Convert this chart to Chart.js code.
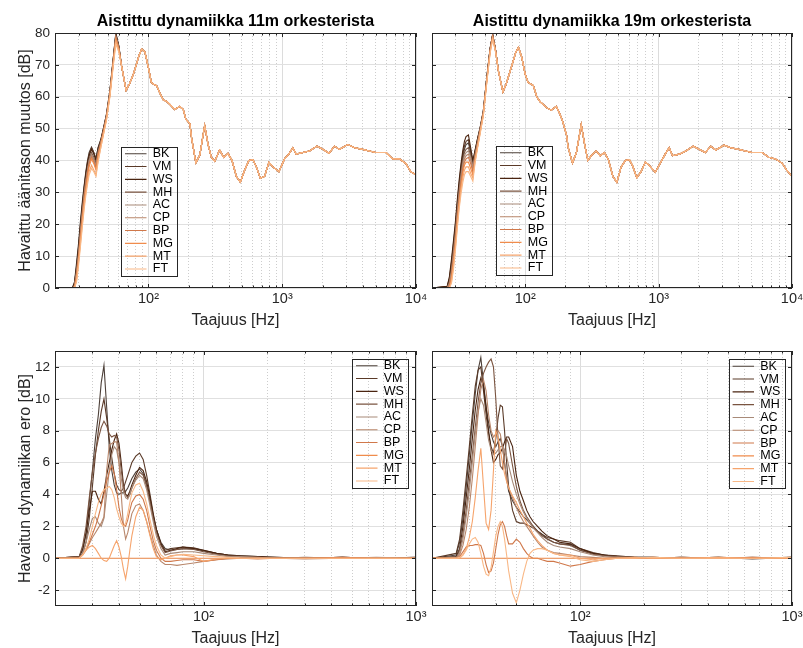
<!DOCTYPE html>
<html>
<head>
<meta charset="utf-8">
<script src="https://cdn.jsdelivr.net/npm/chart.js@4.4.1/dist/chart.umd.min.js"></script>
<style>
  body { margin: 0; background: #fff; }
  .wrap { position: relative; width: 803px; height: 648px; }
  canvas { position: absolute; left: 0; top: 0; }
</style>
</head>
<body>
<div class="wrap">
  <canvas id="tl" width="803" height="648"></canvas>
  <canvas id="tr" width="803" height="648"></canvas>
  <canvas id="bl" width="803" height="648"></canvas>
  <canvas id="br" width="803" height="648"></canvas>
</div>
<script>
const players = ['BK', 'VM', 'WS', 'MH', 'AC', 'CP', 'BP', 'MG', 'MT', 'FT'];
const lineColors = ['#4d4039', '#5a3a28', '#4a2410', '#7a5440', '#a88a78', '#b8866a', '#d0784a', '#f08c4c', '#f6a46c', '#f9b886'];

// top row: level change [dB] vs frequency [Hz]
// below ~65 Hz the players differ, above that the curves lie on top of each other
const freqLow = [20, 26, 27, 28, 29, 30, 31, 32, 33, 34, 35, 36, 37.5, 39, 40.5, 42, 44, 46, 48.5, 51.5, 54.5, 57, 60, 63];
const freqHigh = [68, 72, 77, 81, 85, 89, 94, 100, 105, 110, 115, 122, 129, 137, 145, 157,
  171, 182, 190, 204, 210, 226, 242, 263, 279, 295, 313, 340, 365, 393, 421, 454,
  486, 524, 563, 604, 640, 686, 738, 795, 851, 944, 1040, 1120, 1200, 1270, 1430, 1600,
  1820, 2010, 2240, 2460, 2680, 3090, 3470, 3990, 4470, 5010, 5970, 6700, 7510, 8420, 9130, 10000];

// rows in the same order as players
const lowTop11 = [
  [0, 0, 0, 2, 8, 14, 21, 27, 32, 36.5, 40, 42.5, 44.2, 42.5, 40.5, 44, 46.5, 50, 54.5, 62, 72, 80, 76, 69.5],
  [0, 0, 0, 1.5, 7, 13, 20, 26, 31.5, 36, 39.5, 42, 44, 42.5, 40.5, 44, 46.5, 50, 54.5, 62, 72, 79.8, 76, 69.5],
  [0, 0, 0, 1.5, 6.5, 12.5, 19.5, 25.5, 31, 35.5, 39, 41.5, 43.5, 42, 40, 43.5, 46, 49.5, 54, 61.5, 71.5, 79.5, 75.5, 69.5],
  [0, 0, 0, 1, 5.5, 11, 18, 24, 29.5, 34, 37.5, 40.5, 42.5, 41, 39, 43, 46, 49.5, 54, 61.5, 71.5, 79, 75.5, 69.5],
  [0, 0, 0, 0.5, 5, 10.5, 17.5, 23.5, 29, 33.5, 37, 40, 42, 40.5, 38.5, 42.5, 45.5, 49, 54, 61.5, 71, 79, 75.5, 69.5],
  [0, 0, 0, 0.5, 4.5, 10, 17, 23, 28.5, 33, 36.5, 39.5, 41.5, 40, 38, 42, 45.5, 49, 53.5, 61, 71, 78.5, 75, 69.5],
  [0, 0, 0, 0.3, 4, 9.5, 16, 22, 27.5, 32, 36, 39, 41, 39.5, 37.5, 42, 45, 49, 53.5, 61, 70.5, 78.5, 75, 69.5],
  [0, 0, 0, 0, 3, 8.5, 15, 21, 26.5, 31, 35, 38, 40.5, 39, 37, 41.5, 45, 48.5, 53, 60.5, 70.5, 78, 75, 69.5],
  [0, 0, 0, 0, 2.5, 8, 14, 20, 25.5, 30, 33.5, 36.5, 38.5, 37, 35.5, 40, 44, 48, 53, 60.5, 70, 77.5, 74.5, 69.5],
  [0, 0, 0, 0, 2, 7, 13, 19, 24.5, 29, 32.5, 35.5, 37.5, 36.5, 35, 39.5, 44, 48, 52.5, 60, 69.5, 76.5, 74, 69.5]
];
const highTop11 = [62, 64, 67, 70, 73, 75, 74, 69,
  64.5, 63.8, 63.5, 61, 59, 58.5, 57.5, 56,
  57, 56, 53, 51.5, 47, 39.3, 41.7, 51,
  45, 41, 39.8, 43.3, 41, 42.2, 40, 35,
  33.2, 37, 40, 40.3, 38, 34.4, 35, 39.4,
  38, 36.5, 40.5, 42, 44, 42, 42.5, 43,
  44.5, 43.5, 42.3, 44.5, 43.5, 45, 44, 43.5,
  43, 42.5, 42.5, 40.5, 40.5, 39, 36.5, 35.5];

const lowTop19 = [
  [0, 0.3, 2.5, 7, 13, 19, 26, 32, 37, 41, 43.5, 45, 45.5, 42.5, 39, 42.5, 46.5, 50, 55.5, 66, 75, 79.5, 74.5, 68],
  [0, 0.5, 3, 8, 14, 20, 27, 33, 38, 42, 44.5, 46, 46.5, 43, 39.5, 43, 47, 50.5, 55.5, 66, 75, 79.5, 74.5, 68],
  [0, 0.5, 3.5, 9, 15, 21, 28, 34, 39, 43, 46, 47.5, 48, 44, 40, 43, 47, 50.5, 55.5, 66, 75, 79.5, 74.5, 68],
  [0, 0.2, 2, 6, 12, 18, 25, 31, 36, 40, 42.5, 43.5, 44, 41.5, 38.5, 42, 46, 50, 55, 65.5, 75, 79.5, 74.5, 68],
  [0, 0, 1.5, 5, 11, 17, 24, 30, 35, 39, 41.5, 42.5, 43, 41, 38, 41.5, 46, 50, 55, 65.5, 74.5, 79, 74.5, 68],
  [0, 0, 1, 4.5, 10, 16, 23, 29, 34, 38, 40.5, 41.5, 42, 40, 37, 41, 45.5, 49.5, 55, 65.5, 74.5, 79, 74.5, 68],
  [0, 0, 0.5, 3.5, 9, 15, 22, 28, 33, 37, 39.5, 40.5, 41, 39, 36.5, 40.5, 45, 49.5, 54.5, 65, 74.5, 79, 74.5, 68],
  [0, 0, 0.3, 3, 8, 14, 21, 27, 32, 36, 38.5, 39.5, 39.5, 37.5, 35.5, 40, 44.5, 49, 54.5, 65, 74, 78.5, 74, 68],
  [0, 0, 0, 2, 7, 13, 20, 26, 31, 34.5, 37, 38, 38, 36, 34.5, 39.5, 44.5, 49, 54, 64.5, 74, 78.5, 74, 68],
  [0, 0, 0, 1.5, 6, 12, 19, 25, 29.5, 33, 35.5, 36.5, 36.5, 35, 33.5, 39, 44, 48.5, 54, 64.5, 73.5, 78, 74, 68]
];
const highTop19 = [61.5, 64, 68, 71, 74, 75.5, 72.5, 67,
  64.5, 64, 63.5, 60, 58.5, 57.5, 56.5, 55.8,
  57, 54.5, 52.5, 48, 44, 39.2, 42.5, 51.3,
  45, 40, 41.5, 43, 41.5, 42.5, 40.2, 35,
  33.2, 38, 40, 40.3, 38.2, 34.6, 36.5, 39.5,
  38.5, 36.3, 39.5, 42, 44, 41.5, 42, 43,
  44.5, 43.5, 42.5, 44.5, 43.3, 44.8, 44, 43.5,
  43, 42.5, 42.5, 41, 40.5, 39.2, 37, 35];

// bottom row: difference in perceived dynamics [dB]
const freqBot = [20, 26, 27, 28, 29, 30, 31, 32, 33, 34, 35, 36, 37, 38, 39, 40, 41, 42, 43, 44, 45, 46,
  48, 50, 52, 54, 56, 58, 60, 63, 66, 70, 75, 80, 90, 100, 115, 130, 150, 180, 220, 300, 450, 650, 1000];

const diff11 = [
  [0, 0.1, 0.5, 1.5, 3.5, 5.5, 7.5, 9.0, 11.0, 12.1, 9.5, 7.0, 5.5, 4.6, 4.1, 4.0, 4.1, 4.1, 4.2, 4.4, 4.7, 5.0,
   5.4, 5.6, 5.3, 4.6, 3.6, 2.6, 1.8, 1.0, 0.6, 0.5, 0.55, 0.6, 0.6, 0.45, 0.3, 0.2, 0.15, 0.1, 0.05, 0.0, 0.05, 0.0, 0.05],
  [0, 0.05, 0.3, 1.0, 2.5, 4.5, 6.5, 8.0, 9.2, 10.0, 8.8, 7.5, 6.3, 5.3, 4.6, 4.3, 4.2, 4.4, 4.8, 5.2, 5.6, 6.0,
   6.4, 6.6, 6.2, 5.2, 4.0, 2.8, 1.8, 0.9, 0.5, 0.6, 0.65, 0.7, 0.65, 0.5, 0.3, 0.2, 0.15, 0.1, 0.05, 0.0, 0.05, 0.0, 0.0],
  [0, 0.1, 0.6, 1.6, 3.0, 4.2, 4.2, 3.7, 3.4, 4.2, 5.2, 6.0, 6.8, 7.4, 7.8, 7.2, 6.0, 4.6, 4.0, 3.9, 4.2, 4.6,
   5.2, 5.7, 5.5, 4.8, 3.8, 2.7, 1.8, 0.9, 0.4, 0.5, 0.6, 0.7, 0.6, 0.5, 0.3, 0.2, 0.1, 0.1, 0.0, 0.0, 0.05, 0.0, 0.0],
  [0, 0.1, 0.8, 2.0, 3.8, 5.4, 6.6, 7.5, 8.2, 8.6, 8.3, 7.8, 7.6, 7.7, 7.6, 6.8, 5.5, 4.5, 4.0, 3.8, 4.0, 4.4,
   5.0, 5.4, 5.2, 4.5, 3.5, 2.5, 1.6, 0.8, 0.35, 0.45, 0.55, 0.6, 0.55, 0.4, 0.25, 0.15, 0.1, 0.05, 0.0, 0.05, 0.0, 0.0, 0.05],
  [0, 0, 0.3, 1.0, 1.8, 2.5, 2.6, 2.2, 2.0, 2.5, 4.0, 5.5, 6.5, 7.0, 6.8, 6.0, 5.0, 4.2, 3.8, 3.7, 4.0, 4.4,
   4.9, 5.2, 5.0, 4.3, 3.3, 2.3, 1.4, 0.6, 0.2, 0.3, 0.35, 0.4, 0.4, 0.3, 0.2, 0.1, 0.1, 0.05, 0.0, 0.0, 0.0, 0.05, 0.0],
  [0, 0, 0.2, 0.5, 0.9, 1.3, 1.6, 1.9, 2.2, 2.6, 5.5, 7.1, 7.2, 7.3, 7.3, 6.0, 4.0, 2.0, 1.2, 1.6, 2.2, 2.8,
   3.3, 3.4, 3.0, 2.3, 1.5, 0.8, 0.2, -0.2, -0.4, -0.4, -0.45, -0.4, -0.3, -0.2, -0.1, -0.05, 0.0, 0.0, 0.0, -0.05, 0.0, 0.0, 0.0],
  [0, 0, 0.2, 0.6, 1.0, 1.5, 2.0, 2.6, 3.3, 4.0, 4.8, 5.4, 5.8, 5.3, 4.3, 3.2, 2.5, 2.1, 2.0, 2.4, 3.0, 3.5,
   3.9, 4.0, 3.7, 3.0, 2.0, 1.1, 0.5, 0.0, -0.2, -0.2, -0.15, -0.1, -0.1, -0.2, -0.1, 0.0, 0.0, -0.05, 0.0, 0.0, 0.05, 0.0, 0.0],
  [0, 0, 0, 0, 0, 0, 0, 0, 0, 0, 0, 0, 0, 0, 0, 0, 0, 0, 0, 0, 0, 0,
   0, 0, 0, 0, 0, 0, 0, 0, 0, 0, 0, 0, 0, 0, 0, 0, 0, 0, 0, 0, 0, 0, 0],
  [0, 0, 0.2, 0.5, 0.7, 0.8, 0.6, 0.3, 0.0, -0.15, -0.2, 0.0, 0.4, 0.8, 1.1, 0.7, 0.1, -0.7, -1.3, -0.5, 0.5, 1.4,
   2.6, 3.2, 3.0, 2.3, 1.4, 0.6, 0.1, -0.1, 0.0, 0.15, 0.2, 0.2, 0.1, -0.2, -0.05, 0.0, 0.0, 0.0, 0.0, 0.0, 0.0, 0.0, 0.0],
  [0, 0, 0.2, 0.6, 1.2, 2.0, 2.8, 3.5, 4.0, 4.3, 4.4, 4.5, 4.3, 3.8, 3.1, 2.6, 2.2, 2.0, 2.2, 2.8, 3.5, 4.1,
   4.6, 4.7, 4.2, 3.4, 2.4, 1.5, 0.8, 0.2, 0.0, 0.1, 0.2, 0.25, 0.2, 0.15, 0.1, 0.05, 0.0, 0.0, 0.0, 0.0, 0.0, 0.0, 0.0]
];

const diff19 = [
  [0, 0.2, 1.0, 2.5, 4.5, 6.5, 8.5, 10.3, 11.8, 12.6, 11.0, 9.5, 8.5, 7.8, 7.3, 7.0, 7.3, 7.5, 7.0, 6.0, 5.0, 4.2,
   3.6, 3.2, 2.9, 2.6, 2.4, 2.2, 2.0, 1.7, 1.5, 1.2, 1.0, 0.9, 0.85, 0.5, 0.3, 0.2, 0.1, 0.05, 0.05, 0.0, 0.05, -0.05, 0.05],
  [0, 0.3, 1.2, 3.0, 5.0, 7.0, 9.0, 10.8, 11.8, 12.0, 10.5, 9.0, 7.8, 7.0, 6.6, 7.5, 8.8, 9.6, 9.5, 8.0, 6.0, 4.5,
   3.0, 2.3, 2.2, 2.2, 2.1, 2.0, 1.9, 1.7, 1.5, 1.3, 1.2, 1.1, 1.0, 0.6, 0.35, 0.2, 0.15, 0.05, 0.0, 0.05, 0.0, 0.05, 0.0],
  [0, 0.1, 0.6, 2.0, 3.8, 5.6, 7.5, 9.3, 10.6, 11.3, 10.8, 9.5, 8.0, 6.8, 6.0, 6.2, 6.5, 6.6, 6.9, 7.3, 7.6, 7.6,
   7.0, 5.2, 4.2, 3.6, 3.0, 2.6, 2.3, 2.0, 1.7, 1.4, 1.2, 1.0, 0.9, 0.6, 0.3, 0.2, 0.1, 0.05, 0.05, 0.0, 0.05, 0.0, 0.05],
  [0, 0, 0.5, 1.5, 3.0, 4.8, 6.5, 8.2, 9.8, 11.0, 11.6, 12.0, 12.3, 12.5, 12.0, 10.0, 7.5, 5.8, 5.6, 6.5, 7.5, 7.2,
   5.8, 4.5, 3.6, 3.0, 2.6, 2.3, 2.0, 1.7, 1.4, 1.2, 1.0, 0.9, 0.8, 0.5, 0.25, 0.15, 0.1, 0.05, 0.0, 0.05, 0.0, 0.0, 0.05],
  [0, 0, 0.3, 1.2, 2.6, 4.2, 6.0, 7.8, 9.2, 10.0, 9.6, 8.5, 7.4, 6.8, 6.5, 6.6, 6.8, 7.0, 7.0, 6.8, 6.4, 5.8,
   4.8, 4.0, 3.4, 2.9, 2.5, 2.2, 1.9, 1.6, 1.3, 1.0, 0.8, 0.7, 0.6, 0.4, 0.2, 0.1, 0.05, 0.05, 0.0, 0.0, 0.05, 0.0, 0.0],
  [0, 0, 0.2, 0.8, 1.8, 3.2, 5.0, 7.0, 9.0, 10.6, 11.2, 10.5, 9.0, 8.0, 7.6, 7.8, 8.0, 7.8, 7.0, 6.0, 5.0, 4.4,
   3.8, 3.2, 2.7, 2.3, 2.0, 1.7, 1.4, 1.0, 0.7, 0.5, 0.35, 0.3, 0.2, 0.1, 0.05, 0.0, 0.05, 0.0, 0.0, 0.05, 0.0, 0.0, 0.0],
  [0, 0, 0.1, 0.4, 0.7, 0.8, 0.8, 0.85, 0.85, 0.8, 0.3, -0.4, -0.9, -0.8, -0.3, 0.6, 1.5, 2.1, 2.3, 2.0, 1.4, 0.9,
   0.9, 1.2, 1.0, 0.6, 0.3, 0.1, 0.0, 0.0, -0.1, -0.2, -0.2, -0.3, -0.5, -0.4, -0.2, -0.1, 0.0, 0.0, 0.05, 0.0, 0.0, 0.05, 0.0],
  [0, 0, 0, 0, 0, 0, 0, 0, 0, 0, 0, 0, 0, 0, 0, 0, 0, 0, 0, 0, 0, 0,
   0, 0, 0, 0, 0, 0, 0, 0, 0, 0, 0, 0, 0, 0, 0, 0, 0, 0, 0, 0, 0, 0, 0],
  [0, 0, 0, 0.2, 0.6, 1.3, 2.3, 3.8, 5.5, 6.9, 4.5, 2.2, 1.8, 3.0, 5.5, 8.0, 7.6, 6.8, 6.0, 5.3, 4.8, 4.4,
   3.9, 3.5, 3.0, 2.6, 2.2, 1.9, 1.5, 1.1, 0.8, 0.5, 0.3, 0.2, 0.2, 0.0, -0.1, 0.0, 0.0, 0.05, 0.0, 0.0, 0.05, 0.0, 0.0],
  [0, 0, 0.05, 0.2, 0.5, 0.9, 1.2, 1.3, 1.0, 0.3, -0.5, -1.0, -1.1, -0.6, 0.4, 1.4, 2.0, 2.3, 2.0, 1.2, 0.2, -0.8,
   -2.2, -2.8, -2.0, -1.0, -0.2, 0.3, 0.5, 0.6, 0.6, 0.5, 0.3, 0.2, 0.1, -0.1, -0.2, -0.1, 0.0, 0.0, 0.05, 0.0, 0.0, 0.0, 0.05]
];

const xTicksTop = [20, 30, 40, 50, 60, 70, 80, 90, 100, 200, 300, 400, 500, 600, 700, 800, 900,
  1000, 2000, 3000, 4000, 5000, 6000, 7000, 8000, 9000, 10000];
const xTicksBot = [20, 30, 40, 50, 60, 70, 80, 90, 100, 200, 300, 400, 500, 600, 700, 800, 900, 1000];
const yTicksTop = [0, 10, 20, 30, 40, 50, 60, 70, 80];
const yTicksBot = [-2, 0, 2, 4, 6, 8, 10, 12];
const decadeLabels = { 100: '10²', 1000: '10³', 10000: '10⁴' };

Chart.defaults.font.family = "'Liberation Sans', Arial, Helvetica, sans-serif";
Chart.defaults.color = '#262626';

const isDecade = v => Math.abs(Math.log10(v) - Math.round(Math.log10(v))) < 1e-6;
const ROW = 12.8; // legend row pitch

// box round the axes, inward tick marks, legend frame and the panel title
const frame = {
  id: 'frame',
  afterUpdate(chart, args, o) {
    const lg = chart.legend;
    if (!lg || !o.legendAt) return;
    const pad = lg.options.labels.padding;
    lg.left = o.legendAt[0] - pad;
    lg.top = o.legendAt[1] - pad;
    lg.width = 80; lg.height = 200;
    lg.right = lg.left + 80; lg.bottom = lg.top + 200;
    lg.adjustHitBoxes();
  },
  afterDraw(chart, args, o) {
    const { ctx, chartArea: a, scales: { x, y } } = chart;
    const L = Math.round(a.left), R = Math.round(a.right), T = Math.round(a.top), B = Math.round(a.bottom);
    ctx.save();
    ctx.strokeStyle = '#262626';
    ctx.lineWidth = 1;
    ctx.beginPath();
    y.ticks.forEach(t => {
      const py = Math.round(y.getPixelForValue(t.value)) + 0.5;
      ctx.moveTo(L, py); ctx.lineTo(L + 4, py);
      ctx.moveTo(R, py); ctx.lineTo(R - 4, py);
    });
    x.ticks.forEach(t => {
      const len = isDecade(t.value) ? 4 : 2.5;
      const px = Math.round(x.getPixelForValue(t.value)) + 0.5;
      ctx.moveTo(px, B); ctx.lineTo(px, B - len);
      ctx.moveTo(px, T); ctx.lineTo(px, T + len);
    });
    ctx.stroke();
    ctx.strokeRect(L + 0.5, T + 0.5, R - L - 1, B - T - 1);
    if (o.legendAt) {
      const [lx, ly] = o.legendAt;
      const n = chart.data.datasets.length;
      ctx.strokeRect(Math.round(lx - 4) + 0.5, Math.round(ly - 1) + 0.5, 56, Math.round(n * ROW + 1));
    }
    if (o.title) {
      ctx.fillStyle = '#000';
      ctx.font = "bold 16px 'Liberation Sans', Arial, sans-serif";
      ctx.textAlign = 'center';
      ctx.textBaseline = 'alphabetic';
      ctx.fillText(o.title, (a.left + a.right) / 2, a.top - 7);
    }
    ctx.restore();
  }
};

function panel(id, cfg) {
  const a = cfg.area;
  const yW = cfg.yTitle ? 39 : 0;
  const xH = 42;
  new Chart(document.getElementById(id), {
    type: 'line',
    data: {
      labels: cfg.freq,
      datasets: players.map((p, i) => ({
        label: p,
        data: cfg.rows[i],
        borderColor: lineColors[i],
        backgroundColor: lineColors[i],
        borderWidth: 1.1,
        pointRadius: 0,
        fill: false,
        tension: 0,
        order: players.length - i
      }))
    },
    options: {
      responsive: false,
      animation: false,
      devicePixelRatio: 1,
      events: [],
      layout: { padding: { left: a.l - yW, top: a.t, right: 803 - a.r, bottom: 648 - a.b - xH } },
      scales: {
        x: {
          type: 'logarithmic',
          min: cfg.xTicks[0],
          max: cfg.xTicks[cfg.xTicks.length - 1],
          afterBuildTicks: s => { s.ticks = cfg.xTicks.map(v => ({ value: v })); },
          afterFit: s => { s.height = xH; s.paddingLeft = 0; s.paddingRight = 0; },
          ticks: {
            autoSkip: false, maxRotation: 0, minRotation: 0, padding: 2,
            font: { size: 14.5 },
            callback: v => decadeLabels[v] || ''
          },
          grid: { drawTicks: false, color: c => (c.tick && isDecade(c.tick.value)) ? '#dcdcdc' : '#cdcdcd' },
          border: { display: false, dash: c => (c.tick && !isDecade(c.tick.value)) ? [1, 2] : [] },
          title: { display: true, text: 'Taajuus [Hz]', font: { size: 16 }, padding: 0 }
        },
        y: {
          min: cfg.yRange[0],
          max: cfg.yRange[1],
          afterBuildTicks: s => { s.ticks = cfg.yTicks.map(v => ({ value: v })); },
          afterFit: s => { s.width = yW; s.paddingTop = 0; s.paddingBottom = 0; },
          ticks: { display: !!cfg.yTitle, padding: 5, font: { size: 13.5 } },
          grid: { drawTicks: false, color: '#e0e0e0' },
          border: { display: false },
          title: { display: !!cfg.yTitle, text: cfg.yTitle || '', font: { size: 16 }, padding: 0 }
        }
      },
      plugins: {
        legend: {
          position: 'chartArea',
          align: 'start',
          labels: {
            usePointStyle: true, pointStyle: 'line', pointStyleWidth: 21.5, boxHeight: 12,
            padding: ROW - 12.5, font: { size: 12.5 }, color: '#000',
            sort: (p, q) => p.datasetIndex - q.datasetIndex
          }
        },
        tooltip: { enabled: false },
        frame: { title: cfg.title, legendAt: cfg.legendAt }
      }
    },
    plugins: [frame]
  });
}

const freqTop = freqLow.concat(freqHigh);

panel('tl', {
  area: { l: 55, r: 416, t: 33, b: 288 },
  freq: freqTop, rows: lowTop11.map(r => r.concat(highTop11)),
  xTicks: xTicksTop, yTicks: yTicksTop, yRange: [0, 80],
  yTitle: 'Havaittu äänitason muutos [dB]',
  title: 'Aistittu dynamiikka 11m orkesterista',
  legendAt: [125, 147.5]
});
panel('tr', {
  area: { l: 432, r: 792, t: 33, b: 288 },
  freq: freqTop, rows: lowTop19.map(r => r.concat(highTop19)),
  xTicks: xTicksTop, yTicks: yTicksTop, yRange: [0, 80],
  title: 'Aistittu dynamiikka 19m orkesterista',
  legendAt: [500, 146.5]
});
panel('bl', {
  area: { l: 55, r: 416, t: 351, b: 606 },
  freq: freqBot, rows: diff11,
  xTicks: xTicksBot, yTicks: yTicksBot, yRange: [-3, 13],
  yTitle: 'Havaitun dynamiikan ero [dB]',
  legendAt: [356, 359.5]
});
panel('br', {
  area: { l: 432, r: 792, t: 351, b: 606 },
  freq: freqBot, rows: diff19,
  xTicks: xTicksBot, yTicks: yTicksBot, yRange: [-3, 13],
  legendAt: [732.5, 360]
});
</script>
</body>
</html>
